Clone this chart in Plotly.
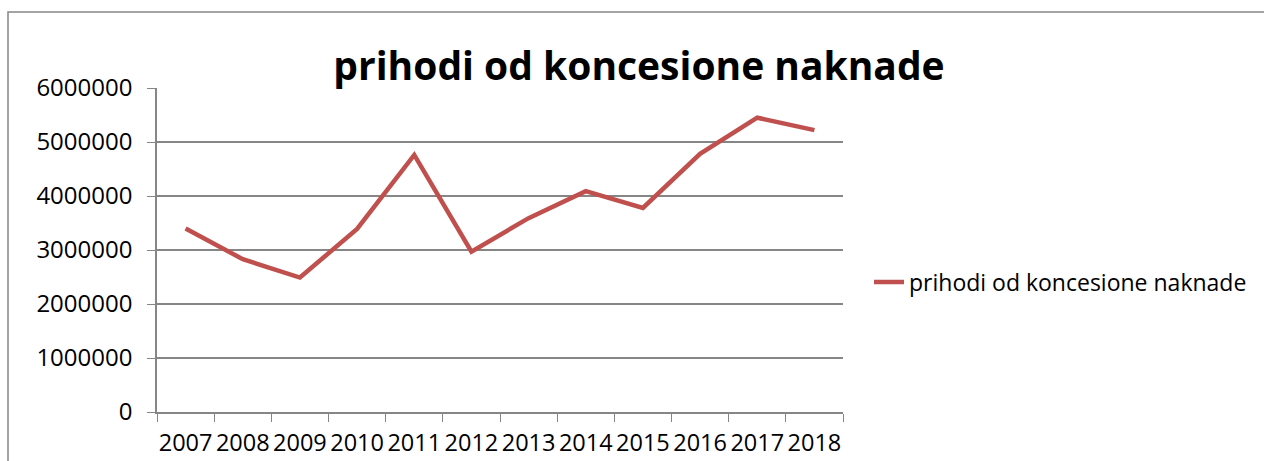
import plotly.graph_objects as go

years = ["2007", "2008", "2009", "2010", "2011", "2012", "2013", "2014", "2015", "2016", "2017", "2018"]
values = [3400000, 2830000, 2490000, 3390000, 4760000, 2970000, 3590000, 4090000, 3780000, 4780000, 5450000, 5220000]
series_name = "prihodi od koncesione naknade"
y_ticks = [0, 1000000, 2000000, 3000000, 4000000, 5000000, 6000000]

L, R, T, B = 157, 843, 88, 412
W, H = 1264, 461
pw, ph = R - L, B - T

fig = go.Figure()
fig.add_trace(go.Scatter(x=years, y=values, mode="lines", name=series_name,
                         line=dict(color="#C0504D", width=4.5)))

grid = "#868686"
fig.update_layout(
    width=W, height=H,
    margin=dict(l=L, r=W - R, t=T, b=H - B, autoexpand=False),
    paper_bgcolor="white", plot_bgcolor="white",
    font=dict(family="Open Sans", size=24, color="black"),
    title=dict(text="<b>prihodi od koncesione naknade</b>", xref="container", x=639 / W,
               xanchor="center", yref="container", y=1 - 66 / H, yanchor="middle",
               font=dict(family="Open Sans", size=39, color="black")),
    showlegend=True,
    legend=dict(x=(869 - L) / pw, xanchor="left", y=(B - 282) / ph, yanchor="middle",
                font=dict(size=23), bgcolor="rgba(0,0,0,0)"),
    xaxis=dict(type="category", range=[-0.5, len(years) - 0.5], tickson="boundaries",
               ticks="outside", ticklen=8, tickcolor=grid, tickangle=0, automargin=False,
               showline=True, linecolor=grid, linewidth=1.5, showgrid=False,
               tickfont=dict(size=23.5), ticklabelstandoff=9),
    yaxis=dict(range=[0, 6000000], tickvals=y_ticks, ticktext=[str(v) for v in y_ticks],
               ticks="outside", ticklen=8, tickcolor=grid, showline=True, linecolor=grid, linewidth=1.5,
               showgrid=True, gridcolor=grid, gridwidth=1.5, zeroline=False, automargin=False,
               tickfont=dict(size=24), ticklabelstandoff=10),
    shapes=[dict(type="rect", xref="paper", yref="paper",
                 x0=(8 - L) / pw, x1=(W + 20 - L) / pw, y0=(B - (H + 20)) / ph, y1=(B - 12) / ph,
                 line=dict(color="#868686", width=1.5), fillcolor="rgba(0,0,0,0)", layer="below")],
)
fig.write_html("out.html", config={"displayModeBar": False},
               post_script="document.body.style.margin='0';document.body.style.overflow='hidden';")
